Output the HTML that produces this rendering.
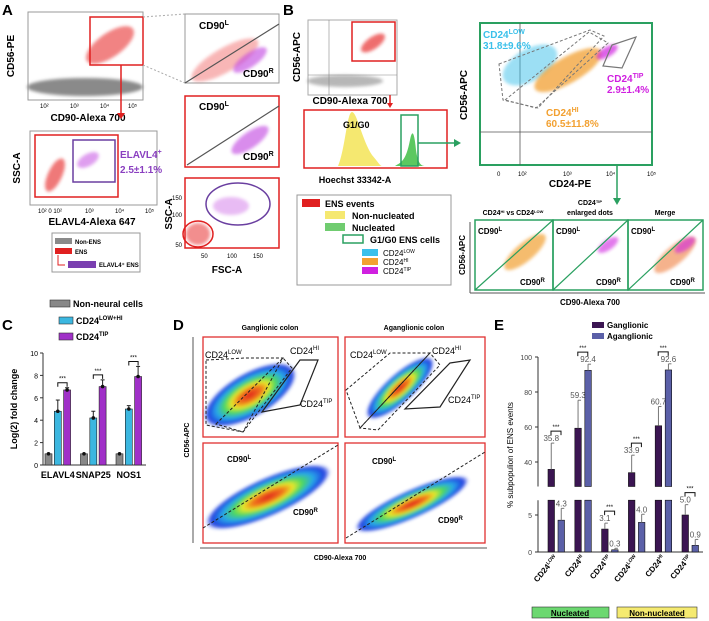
<!DOCTYPE html>
<html><head><meta charset="utf-8"><style>
body{margin:0;background:#fff}
svg{display:block;font-family:"Liberation Sans",Arial,sans-serif}
.b{font-weight:bold}
</style></head><body>
<svg id="fig" width="709" height="621" viewBox="0 0 709 621" xmlns="http://www.w3.org/2000/svg">
<defs>
<filter id="bl" x="-50%" y="-50%" width="200%" height="200%"><feGaussianBlur stdDeviation="3"/></filter>
<filter id="bl2" x="-50%" y="-50%" width="200%" height="200%"><feGaussianBlur stdDeviation="1.5"/></filter>
<radialGradient id="heat"><stop offset="0" stop-color="#e0201a"/><stop offset="0.25" stop-color="#f07a1a"/><stop offset="0.4" stop-color="#e8e82a"/><stop offset="0.55" stop-color="#4cd860"/><stop offset="0.72" stop-color="#28a8e8"/><stop offset="0.9" stop-color="#2040e0"/><stop offset="1" stop-color="#2040e0" stop-opacity="0"/></radialGradient>
</defs>

<!-- PANEL A -->
<g>
<text x="2" y="15" font-size="15" class="b">A</text>
<rect x="28" y="12" width="115" height="88" fill="none" stroke="#999"/>
<ellipse cx="85" cy="87" rx="58" ry="9" fill="#8a8a8a" filter="url(#bl2)"/>
<ellipse cx="110" cy="45" rx="28" ry="12" fill="#e83030" opacity="0.6" transform="rotate(-35 110 45)" filter="url(#bl2)"/>
<rect x="90" y="17" width="53" height="48" fill="none" stroke="#e02020" stroke-width="1.5"/>
<text x="14" y="56" font-size="10" class="b" transform="rotate(-90 14 56)" text-anchor="middle">CD56-PE</text>
<text x="40" y="108" font-size="6">10²</text><text x="70" y="108" font-size="6">10³</text><text x="100" y="108" font-size="6">10⁴</text><text x="128" y="108" font-size="6">10⁵</text>
<text x="88" y="121" font-size="10" class="b" text-anchor="middle">CD90-Alexa 700</text>
<line x1="121" y1="65" x2="121" y2="114" stroke="#e02020" stroke-width="1.5"/><polygon points="117,113 125,113 121,119" fill="#e02020"/>
<line x1="143" y1="17" x2="185" y2="14" stroke="#aaa" stroke-dasharray="2,2"/><line x1="143" y1="65" x2="185" y2="83" stroke="#aaa" stroke-dasharray="2,2"/>
<rect x="185" y="14" width="94" height="69" fill="none" stroke="#999"/>
<ellipse cx="225" cy="60" rx="38" ry="12" fill="#f06060" opacity="0.45" transform="rotate(-30 225 60)" filter="url(#bl2)"/>
<ellipse cx="250" cy="60" rx="20" ry="7" fill="#c040e0" opacity="0.6" transform="rotate(-35 250 60)" filter="url(#bl2)"/>
<line x1="185" y1="83" x2="279" y2="24" stroke="#555" stroke-width="1.2"/>
<text x="199" y="29" font-size="10" class="b">CD90<tspan font-size="7" dy="-4">L</tspan></text>
<text x="243" y="77" font-size="10" class="b">CD90<tspan font-size="7" dy="-4">R</tspan></text>
<rect x="185" y="96" width="94" height="71" fill="none" stroke="#e02020" stroke-width="1.5"/>
<ellipse cx="250" cy="140" rx="22" ry="8" fill="#c040e0" opacity="0.6" transform="rotate(-35 250 140)" filter="url(#bl2)"/>
<line x1="187" y1="165" x2="279" y2="106" stroke="#555" stroke-width="1.2"/>
<text x="199" y="110" font-size="10" class="b">CD90<tspan font-size="7" dy="-4">L</tspan></text>
<text x="243" y="160" font-size="10" class="b">CD90<tspan font-size="7" dy="-4">R</tspan></text>
<rect x="185" y="178" width="94" height="70" fill="none" stroke="#e02020" stroke-width="1.5"/>
<ellipse cx="238" cy="204" rx="32" ry="21" fill="none" stroke="#6a3fa0" stroke-width="1.5"/>
<ellipse cx="231" cy="206" rx="18" ry="9" fill="#c040e0" opacity="0.35" filter="url(#bl2)"/>
<ellipse cx="198" cy="234" rx="12" ry="11" fill="#e83030" opacity="0.55" filter="url(#bl2)"/>
<ellipse cx="198" cy="234" rx="15" ry="13" fill="none" stroke="#e02020" stroke-width="1.5"/>
<text x="182" y="247" font-size="6" text-anchor="end">50</text><text x="182" y="217" font-size="6" text-anchor="end">100</text><text x="182" y="200" font-size="6" text-anchor="end">150</text>
<text x="201" y="258" font-size="6">50</text><text x="227" y="258" font-size="6">100</text><text x="253" y="258" font-size="6">150</text>
<text x="178" y="214" font-size="10" class="b" transform="rotate(-90 178 214)" text-anchor="middle" dy="-6">SSC-A</text>
<text x="227" y="273" font-size="10" class="b" text-anchor="middle">FSC-A</text>
<rect x="30" y="131" width="127" height="74" fill="none" stroke="#999"/>
<rect x="35" y="135" width="83" height="62" fill="none" stroke="#e02020" stroke-width="1.5"/>
<ellipse cx="55" cy="175" rx="18" ry="7" fill="#e83030" opacity="0.65" transform="rotate(-65 55 175)" filter="url(#bl2)"/>
<ellipse cx="88" cy="160" rx="12" ry="6" fill="#c040e0" opacity="0.5" transform="rotate(-30 88 160)" filter="url(#bl2)"/>
<rect x="73" y="140" width="42" height="42" fill="none" stroke="#6a3fa0" stroke-width="1.5"/>
<text x="120" y="158" font-size="10" class="b" fill="#8a3fc0">ELAVL4<tspan font-size="7" dy="-4">+</tspan></text>
<text x="120" y="173" font-size="10" class="b" fill="#8a3fc0">2.5±1.1%</text>
<text x="20" y="168" font-size="10" class="b" transform="rotate(-90 20 168)" text-anchor="middle">SSC-A</text>
<text x="38" y="213" font-size="6">10² 0 10²</text><text x="85" y="213" font-size="6">10³</text><text x="115" y="213" font-size="6">10⁴</text><text x="145" y="213" font-size="6">10⁵</text>
<text x="92" y="225" font-size="10" class="b" text-anchor="middle">ELAVL4-Alexa 647</text>
<g>
<rect x="52" y="233" width="88" height="39" fill="none" stroke="#999"/>
<rect x="55" y="238" width="17" height="6" fill="#8a8a8a"/><text x="75" y="244" font-size="6" class="b">Non-ENS</text>
<rect x="55" y="248" width="17" height="6" fill="#e02020"/><text x="75" y="254" font-size="6" class="b">ENS</text>
<polyline points="58,255 58,265 65,265" fill="none" stroke="#e02020"/>
<rect x="68" y="261" width="28" height="7" fill="#7a3fb0"/><text x="99" y="267" font-size="6" class="b">ELAVL4⁺ ENS</text>
</g>
</g>

<!-- PANEL B -->
<g>
<text x="283" y="15" font-size="15" class="b">B</text>
<rect x="308" y="20" width="89" height="75" fill="none" stroke="#aaa"/>
<line x1="329" y1="20" x2="329" y2="95" stroke="#888" stroke-width="0.6"/><line x1="308" y1="75" x2="397" y2="75" stroke="#888" stroke-width="0.6"/>
<ellipse cx="345" cy="81" rx="38" ry="6" fill="#888" opacity="0.6" filter="url(#bl2)"/>
<ellipse cx="373" cy="43" rx="14" ry="6" fill="#e83030" opacity="0.7" transform="rotate(-35 373 43)" filter="url(#bl2)"/>
<rect x="352" y="22" width="43" height="39" fill="none" stroke="#e02020" stroke-width="1.5"/>
<text x="300" y="57" font-size="10" class="b" transform="rotate(-90 300 57)" text-anchor="middle">CD56-APC</text>
<text x="350" y="104" font-size="10" class="b" text-anchor="middle">CD90-Alexa 700</text>
<line x1="390" y1="95" x2="390" y2="104" stroke="#e02020" stroke-width="1.5"/><polygon points="387,103 393,103 390,108" fill="#e02020"/>
<rect x="304" y="110" width="143" height="58" fill="none" stroke="#e02020" stroke-width="1.5"/>
<path d="M338,166 C345,150 347,112 352,112 C357,112 362,140 372,155 C378,162 380,166 382,166 Z" fill="#f5e870"/>
<path d="M395,166 C402,162 406,160 410,140 C412,130 414,130 416,150 C418,165 422,166 425,166 Z" fill="#5cc860"/>
<rect x="401" y="115" width="17" height="51" fill="none" stroke="#2aa060" stroke-width="1.5"/>
<text x="343" y="128" font-size="9" class="b">G1/G0</text>
<text x="355" y="183" font-size="9" class="b" text-anchor="middle">Hoechst 33342-A</text>
<line x1="418" y1="143" x2="455" y2="143" stroke="#2aa060" stroke-width="1.5"/><polygon points="454,139 461,143 454,147" fill="#2aa060"/>
<g>
<rect x="297" y="195" width="154" height="90" fill="none" stroke="#999"/>
<rect x="302" y="199" width="18" height="8" fill="#e02020"/><text x="325" y="207" font-size="9" class="b">ENS events</text>
<rect x="325" y="211" width="20" height="8" fill="#f5e870"/><text x="352" y="219" font-size="9" class="b">Non-nucleated</text>
<rect x="325" y="223" width="20" height="8" fill="#70cc70"/><text x="352" y="231" font-size="9" class="b">Nucleated</text>
<rect x="343" y="235" width="20" height="8" fill="none" stroke="#2aa060" stroke-width="1.5"/><text x="370" y="243" font-size="9" class="b">G1/G0 ENS cells</text>
<rect x="362" y="249" width="16" height="7" fill="#3bc0ea"/><text x="383" y="256" font-size="8">CD24<tspan font-size="5" dy="-3">LOW</tspan></text>
<rect x="362" y="258" width="16" height="7" fill="#f2a030"/><text x="383" y="265" font-size="8">CD24<tspan font-size="5" dy="-3">HI</tspan></text>
<rect x="362" y="267" width="16" height="7" fill="#d020e0"/><text x="383" y="274" font-size="8">CD24<tspan font-size="5" dy="-3">TIP</tspan></text>
</g>
<rect x="480" y="23" width="172" height="142" fill="none" stroke="#2aa060" stroke-width="2"/>
<line x1="520" y1="23" x2="520" y2="165" stroke="#555" stroke-width="0.8"/><line x1="480" y1="132" x2="652" y2="132" stroke="#555" stroke-width="0.8"/>
<ellipse cx="530" cy="65" rx="30" ry="16" fill="#3bc0ea" opacity="0.5" transform="rotate(-30 530 65)" filter="url(#bl2)"/>
<ellipse cx="568" cy="70" rx="38" ry="13" fill="#f2a030" opacity="0.75" transform="rotate(-30 568 70)" filter="url(#bl2)"/>
<ellipse cx="607" cy="52" rx="12" ry="5" fill="#d020e0" opacity="0.7" transform="rotate(-30 607 52)" filter="url(#bl2)"/>
<polygon points="499,64 590,30 604,36 538,108 503,100" fill="none" stroke="#777" stroke-dasharray="3,2"/>
<polygon points="505,100 589,32 608,43 536,108" fill="none" stroke="#777" stroke-dasharray="3,2"/>
<polygon points="612,45 636,37 622,68 603,66" fill="none" stroke="#777" stroke-width="1.2"/>
<text x="483" y="38" font-size="10" class="b" fill="#3bc0ea">CD24<tspan font-size="7" dy="-4">LOW</tspan></text>
<text x="483" y="49" font-size="10" class="b" fill="#3bc0ea">31.8±9.6%</text>
<text x="607" y="82" font-size="10" class="b" fill="#d020e0">CD24<tspan font-size="7" dy="-4">TIP</tspan></text>
<text x="607" y="93" font-size="10" class="b" fill="#d020e0">2.9±1.4%</text>
<text x="546" y="116" font-size="10" class="b" fill="#f2a030">CD24<tspan font-size="7" dy="-4">HI</tspan></text>
<text x="546" y="127" font-size="10" class="b" fill="#f2a030">60.5±11.8%</text>
<text x="497" y="176" font-size="6">0</text><text x="518" y="176" font-size="6">10²</text><text x="563" y="176" font-size="6">10³</text><text x="606" y="176" font-size="6">10⁴</text><text x="647" y="176" font-size="6">10⁵</text>
<text x="570" y="187" font-size="10" class="b" text-anchor="middle">CD24-PE</text>
<text x="467" y="95" font-size="10" class="b" transform="rotate(-90 467 95)" text-anchor="middle">CD56-APC</text>
<line x1="617" y1="165" x2="617" y2="199" stroke="#2aa060" stroke-width="1.5"/><polygon points="613,198 621,198 617,205" fill="#2aa060"/>
<text x="513" y="215" font-size="7" class="b" text-anchor="middle">CD24<tspan font-size="4" dy="-2">HI</tspan><tspan dy="2"> vs CD24</tspan><tspan font-size="4" dy="-2">LOW</tspan></text>
<text x="590" y="205" font-size="7" class="b" text-anchor="middle">CD24<tspan font-size="4" dy="-2">TIP</tspan></text>
<text x="590" y="215" font-size="7" class="b" text-anchor="middle">enlarged dots</text>
<text x="665" y="215" font-size="7" class="b" text-anchor="middle">Merge</text>
<line x1="470" y1="222" x2="470" y2="293" stroke="#555"/><line x1="470" y1="293" x2="705" y2="293" stroke="#555"/>
<g>
<ellipse cx="525" cy="252" rx="26" ry="9" fill="#f2a030" opacity="0.7" transform="rotate(-40 525 252)" filter="url(#bl2)"/>
<ellipse cx="608" cy="245" rx="12" ry="5" fill="#d020e0" opacity="0.6" transform="rotate(-35 608 245)" filter="url(#bl2)"/>
<ellipse cx="675" cy="255" rx="26" ry="9" fill="#f08040" opacity="0.6" transform="rotate(-40 675 255)" filter="url(#bl2)"/>
<ellipse cx="685" cy="245" rx="12" ry="5" fill="#d020e0" opacity="0.6" transform="rotate(-35 685 245)" filter="url(#bl2)"/>
<rect x="475" y="220" width="78" height="70" fill="none" stroke="#2aa060" stroke-width="1.5"/>
<rect x="553" y="220" width="75" height="70" fill="none" stroke="#2aa060" stroke-width="1.5"/>
<rect x="628" y="220" width="75" height="70" fill="none" stroke="#2aa060" stroke-width="1.5"/>
<line x1="475" y1="290" x2="553" y2="220" stroke="#2aa060" stroke-width="1.2"/><line x1="553" y1="290" x2="628" y2="220" stroke="#2aa060" stroke-width="1.2"/><line x1="628" y1="290" x2="703" y2="220" stroke="#2aa060" stroke-width="1.2"/>
<text x="478" y="234" font-size="8" class="b">CD90<tspan font-size="6" dy="-3">L</tspan></text><text x="520" y="285" font-size="8" class="b">CD90<tspan font-size="6" dy="-3">R</tspan></text>
<text x="556" y="234" font-size="8" class="b">CD90<tspan font-size="6" dy="-3">L</tspan></text><text x="596" y="285" font-size="8" class="b">CD90<tspan font-size="6" dy="-3">R</tspan></text>
<text x="631" y="234" font-size="8" class="b">CD90<tspan font-size="6" dy="-3">L</tspan></text><text x="670" y="285" font-size="8" class="b">CD90<tspan font-size="6" dy="-3">R</tspan></text>
</g>
<text x="465" y="255" font-size="8" class="b" transform="rotate(-90 465 255)" text-anchor="middle">CD56-APC</text>
<text x="590" y="305" font-size="8" class="b" text-anchor="middle">CD90-Alexa 700</text>
</g>

<!-- PANEL C -->
<g id="panelC">
<text x="2" y="330" font-size="15" class="b">C</text>
<rect x="50" y="300" width="20" height="7" fill="#888" stroke="#333" stroke-width="0.6"/><text x="73" y="307" font-size="9" class="b">Non-neural cells</text>
<rect x="59" y="317" width="14" height="7" fill="#3bb7e0" stroke="#333" stroke-width="0.6"/><text x="76" y="324" font-size="9" class="b">CD24<tspan font-size="6" dy="-4">LOW+HI</tspan></text>
<rect x="59" y="333" width="14" height="7" fill="#a030c8" stroke="#333" stroke-width="0.6"/><text x="76" y="340" font-size="9" class="b">CD24<tspan font-size="6" dy="-4">TIP</tspan></text>
<text x="17" y="409" font-size="9" class="b" transform="rotate(-90 17 409)" text-anchor="middle">Log(2) fold change</text>
</g>

<!-- PANEL D -->
<g>
<text x="173" y="330" font-size="15" class="b">D</text>
<text x="270" y="330" font-size="7" class="b" text-anchor="middle">Ganglionic colon</text>
<text x="414" y="330" font-size="7" class="b" text-anchor="middle">Aganglionic colon</text>
<line x1="193" y1="337" x2="193" y2="543" stroke="#555"/><line x1="200" y1="548" x2="487" y2="548" stroke="#555"/>
<text x="189" y="440" font-size="7" class="b" transform="rotate(-90 189 440)" text-anchor="middle">CD56-APC</text>
<text x="340" y="560" font-size="7" class="b" text-anchor="middle">CD90-Alexa 700</text>
<ellipse cx="250" cy="395" rx="52" ry="22" fill="url(#heat)" transform="rotate(-30 250 395)" filter="url(#bl2)"/>
<ellipse cx="400" cy="388" rx="44" ry="14" fill="url(#heat)" transform="rotate(-42 400 388)" filter="url(#bl2)"/>
<ellipse cx="268" cy="497" rx="68" ry="19" fill="url(#heat)" transform="rotate(-24 268 497)" filter="url(#bl2)"/>
<ellipse cx="412" cy="504" rx="62" ry="14" fill="url(#heat)" transform="rotate(-24 412 504)" filter="url(#bl2)"/>
<rect x="203" y="337" width="135" height="100" fill="none" stroke="#e03030" stroke-width="1.3"/>
<rect x="345" y="337" width="140" height="100" fill="none" stroke="#e03030" stroke-width="1.3"/>
<rect x="203" y="443" width="135" height="100" fill="none" stroke="#e03030" stroke-width="1.3"/>
<rect x="345" y="443" width="140" height="100" fill="none" stroke="#e03030" stroke-width="1.3"/>
<polygon points="206,360 245,358 283,358 243,432 206,425" fill="none" stroke="#222" stroke-dasharray="3,2"/>
<polygon points="216,424 283,358 292,368 243,432" fill="none" stroke="#222" stroke-dasharray="3,2"/>
<polygon points="300,360 318,360 300,405 262,412" fill="none" stroke="#222" stroke-width="1.2"/>
<text x="205" y="358" font-size="9">CD24<tspan font-size="6" dy="-4">LOW</tspan></text>
<text x="290" y="354" font-size="9">CD24<tspan font-size="6" dy="-4">HI</tspan></text>
<text x="300" y="407" font-size="9">CD24<tspan font-size="6" dy="-4">TIP</tspan></text>
<polygon points="346,390 390,353 430,353 360,428" fill="none" stroke="#222" stroke-dasharray="3,2"/>
<polygon points="360,428 430,353 440,365 378,430" fill="none" stroke="#222" stroke-dasharray="3,2"/>
<polygon points="450,363 470,360 440,407 405,409" fill="none" stroke="#222" stroke-width="1.2"/>
<text x="350" y="358" font-size="9">CD24<tspan font-size="6" dy="-4">LOW</tspan></text>
<text x="432" y="354" font-size="9">CD24<tspan font-size="6" dy="-4">HI</tspan></text>
<text x="448" y="403" font-size="9">CD24<tspan font-size="6" dy="-4">TIP</tspan></text>
<line x1="203" y1="528" x2="338" y2="445" stroke="#222" stroke-dasharray="3,2"/>
<line x1="346" y1="538" x2="485" y2="452" stroke="#222" stroke-dasharray="3,2"/>
<text x="227" y="462" font-size="8" class="b">CD90<tspan font-size="6" dy="-3">L</tspan></text>
<text x="293" y="515" font-size="8" class="b">CD90<tspan font-size="6" dy="-3">R</tspan></text>
<text x="372" y="464" font-size="8" class="b">CD90<tspan font-size="6" dy="-3">L</tspan></text>
<text x="438" y="523" font-size="8" class="b">CD90<tspan font-size="6" dy="-3">R</tspan></text>
</g>

<!-- PANEL E -->
<g id="panelE">
<text x="494" y="330" font-size="15" class="b">E</text>
<rect x="592" y="322" width="12" height="6" fill="#3b1552"/><text x="607" y="328" font-size="8" class="b">Ganglionic</text>
<rect x="592" y="333" width="12" height="6" fill="#5b60a8"/><text x="607" y="339" font-size="8" class="b">Aganglionic</text>
<text x="513" y="455" font-size="8" transform="rotate(-90 513 455)" text-anchor="middle">% subpopulion of ENS events</text>
<rect x="532" y="607" width="77" height="11" fill="#6cd870" stroke="#333" stroke-width="0.6"/>
<text x="570" y="616" font-size="8" class="b" text-anchor="middle" text-decoration="underline">Nucleated</text>
<rect x="617" y="607" width="80" height="11" fill="#f5ea70" stroke="#333" stroke-width="0.6"/>
<text x="657" y="616" font-size="8" class="b" text-anchor="middle" text-decoration="underline">Non-nucleated</text>
</g>
</svg>
<script>
const NS='http://www.w3.org/2000/svg';
// ---- Panel C data ----
const cGenes=['ELAVL4','SNAP25','NOS1'];
const cNonNeural=[1,1,1];
const cLowHi=[4.8,4.2,5.0];
const cLowHiErr=[1.0,0.6,0.3];
const cTip=[6.7,7.0,7.9];
const cTipErr=[0.2,0.6,0.9];
const cTicks=[0,2,4,6,8,10];
// ---- Panel E data ----
const eCats=['LOW','HI','TIP','LOW','HI','TIP'];
const eGang=[35.8,59.3,3.1,33.9,60.7,5.0];
const eGangErr=[15,16,0.8,10,11,1.4];
const eAgang=[4.3,92.4,0.3,4.0,92.6,0.9];
const eAgangErr=[1.6,3.5,0.2,1.1,3.5,0.8];
const eTicksUpper=[40,60,80,100];
const eTicksLower=[0,5];

function mk(tag,attrs,parent,txt){const e=document.createElementNS(NS,tag);for(const k in attrs)e.setAttribute(k,attrs[k]);if(txt!==undefined)e.textContent=txt;parent.appendChild(e);return e;}

// Panel C
const gC=document.getElementById('panelC');
const cy=v=>465-v*11.2;
const cx=(g,s)=>45+g*35.5+s*9.3;
mk('line',{x1:43,y1:cy(10),x2:43,y2:465,stroke:'#333'},gC);
mk('line',{x1:43,y1:465,x2:146,y2:465,stroke:'#333'},gC);
cTicks.forEach(t=>{mk('line',{x1:40,y1:cy(t),x2:43,y2:cy(t),stroke:'#333'},gC);mk('text',{x:38,y:cy(t)+3,'font-size':7,'text-anchor':'end'},gC,t);});
function cBar(g,s,v,err,fill,name){
  const r=mk('rect',{x:cx(g,s),y:cy(v),width:7,height:465-cy(v),fill:fill,stroke:'#222','stroke-width':0.6},gC);
  
  
  if(err){mk('line',{x1:cx(g,s)+3.5,y1:cy(v),x2:cx(g,s)+3.5,y2:cy(v+err),stroke:'#222'},gC);mk('line',{x1:cx(g,s)+1.5,y1:cy(v+err),x2:cx(g,s)+5.5,y2:cy(v+err),stroke:'#222'},gC);}
  mk('circle',{cx:cx(g,s)+3.5,cy:cy(v),r:1.8,fill:'#111'},gC);
}
cGenes.forEach((gname,g)=>{
  cBar(g,0,cNonNeural[g],0,'#888','bar-nonneural-'+gname.toLowerCase());
  cBar(g,1,cLowHi[g],cLowHiErr[g],'#3bb7e0','bar-lowhi-'+gname.toLowerCase());
  cBar(g,2,cTip[g],cTipErr[g],'#a030c8','bar-tip-'+gname.toLowerCase());
  const top=cy(Math.max(cLowHi[g]+cLowHiErr[g],cTip[g]+cTipErr[g]))-5;
  mk('path',{d:`M${cx(g,1)+3.5},${top+4} V${top} H${cx(g,2)+3.5} V${top+4}`,fill:'none',stroke:'#111'},gC);
  mk('text',{x:(cx(g,1)+cx(g,2))/2+3.5,y:top-2,'font-size':6,'text-anchor':'middle'},gC,'***');
  const lb=mk('text',{x:cx(g,1)+3.5,y:478,'font-size':9,'font-weight':'bold','text-anchor':'middle'},gC,gname);
  
  
});

// Panel E (broken axis)
const gE=document.getElementById('panelE');
const ax=538;
const eyU=v=>357+(100-v)*1.75;   // upper segment 26..100
const eyL=v=>552-v*7.4;          // lower segment 0..7
const uMin=26,lMax=7;
function eTop(v){return v>lMax?eyU(Math.max(v,uMin)):eyL(v);}
mk('line',{x1:ax,y1:357,x2:ax,y2:eyU(uMin),stroke:'#333'},gE);
mk('line',{x1:ax,y1:eyL(lMax),x2:ax,y2:552,stroke:'#333'},gE);
mk('line',{x1:ax,y1:552,x2:703,y2:552,stroke:'#333'},gE);
eTicksUpper.forEach(t=>{mk('line',{x1:ax-3,y1:eyU(t),x2:ax,y2:eyU(t),stroke:'#333'},gE);mk('text',{x:ax-6,y:eyU(t)+3,'font-size':7,'text-anchor':'end',fill:'#444'},gE,t);});
eTicksLower.forEach(t=>{mk('line',{x1:ax-3,y1:eyL(t),x2:ax,y2:eyL(t),stroke:'#333'},gE);mk('text',{x:ax-6,y:eyL(t)+3,'font-size':7,'text-anchor':'end',fill:'#444'},gE,t);});
const ex=(g,s)=>548+g*26.8+s*10;
function eBar(g,s,v,err,fill,name){
  const x=ex(g,s),w=6.5;
  if(v>lMax){
    const r=mk('rect',{x:x,y:eyU(Math.max(v,uMin)),width:w,height:eyU(uMin)-eyU(Math.max(v,uMin)),fill:fill,stroke:'#111','stroke-width':0.6},gE);
    
    
    const r2=mk('rect',{x:x,y:eyL(lMax),width:w,height:552-eyL(lMax),fill:fill,stroke:'#111','stroke-width':0.6},gE);
    
    
  }else{
    const r=mk('rect',{x:x,y:eyL(v),width:w,height:552-eyL(v),fill:fill,stroke:'#111','stroke-width':0.6},gE);
    
    
  }
  const ye=v>lMax?eyU(v+err):eyL(v+err);
  mk('line',{x1:x+w/2,y1:eTop(v),x2:x+w/2,y2:ye,stroke:'#777'},gE);
  mk('line',{x1:x+w/2,y1:ye,x2:x+w/2+3,y2:ye,stroke:'#777'},gE);
  mk('text',{x:x+w/2,y:ye-2,'font-size':8,'text-anchor':'middle',fill:'#555'},gE,v.toFixed(1));
}
eCats.forEach((c,g)=>{
  eBar(g,0,eGang[g],eGangErr[g],'#3b1552','bar-ganglionic-'+g);
  eBar(g,1,eAgang[g],eAgangErr[g],'#5b60a8','bar-aganglionic-'+g);
  const hi=Math.max(eGang[g]+eGangErr[g],eAgang[g]+eAgangErr[g]);
  const top=(hi>lMax?eyU(hi):eyL(hi))-12;
  mk('path',{d:`M${ex(g,0)+3},${top+4} V${top} H${ex(g,1)+3} V${top+4}`,fill:'none',stroke:'#111'},gE);
  mk('text',{x:ex(g,0)+8,y:top-2,'font-size':6,'text-anchor':'middle'},gE,'***');
  const tx=ex(g,0)+10,ty=558;
  const t=mk('text',{x:tx,y:ty,'font-size':8,'font-weight':'bold','text-anchor':'end',transform:`rotate(-50 ${tx} ${ty})`},gE);
  
  
  t.appendChild(document.createTextNode('CD24'));
  const ts=document.createElementNS(NS,'tspan');ts.setAttribute('font-size',5);ts.setAttribute('dy',-3);ts.textContent=c;t.appendChild(ts);
});
</script>
</body></html>
